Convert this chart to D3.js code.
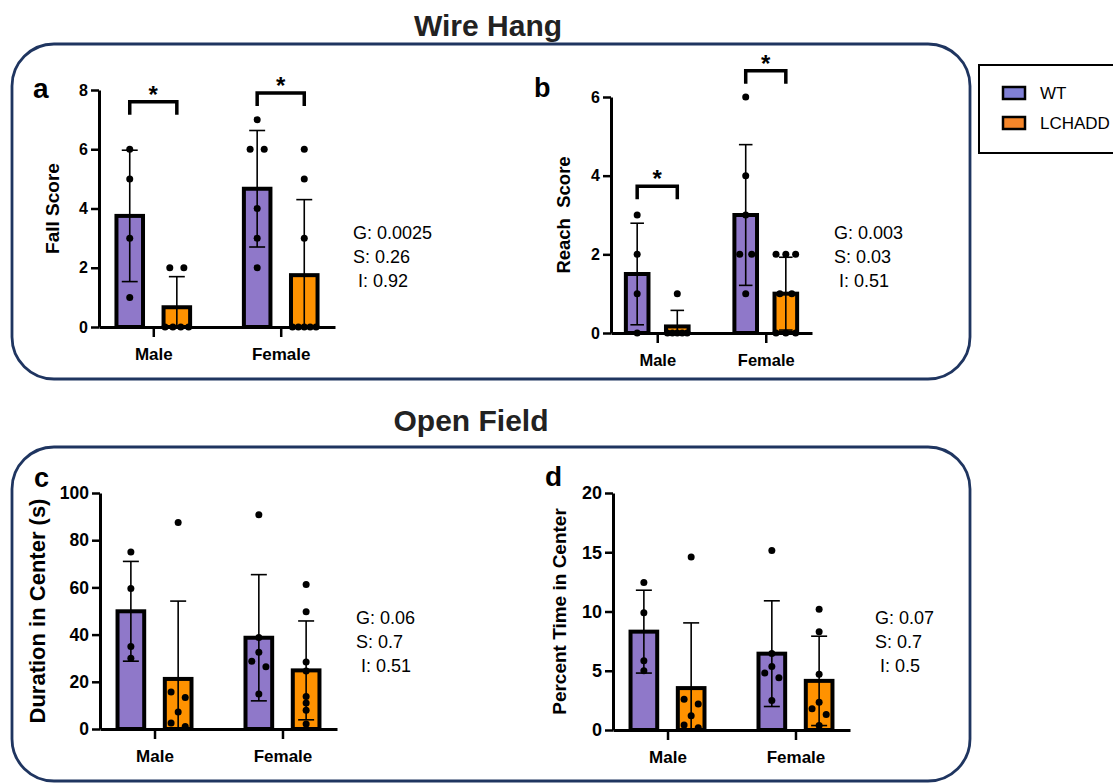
<!DOCTYPE html>
<html>
<head>
<meta charset="utf-8">
<title>Wire Hang / Open Field</title>
<script src="https://cdn.jsdelivr.net/npm/d3@7/dist/d3.min.js"></script>
<style>
  body { margin: 0; background: #fff; }
  svg { display: block; font-family: "Liberation Sans", Arial, sans-serif; }
  .pre { white-space: pre; }
</style>
</head>
<body>
<script>
// categories and groups
var categories = ["Male", "Female"];
var genotypes = ["WT", "LCHADD"];

// a: wire hang fall score
var fallMaleWT = [6, 5, 3, 1];
var fallMaleLCHADD = [2, 2, 0, 0, 0, 0];
var fallFemaleWT = [7, 6, 6, 4, 3, 2];
var fallFemaleLCHADD = [6, 5, 3, 0, 0, 0, 0, 0];
var fallTicks = [0, 2, 4, 6, 8];
var fallSig = [7.6, 7.9];
var fallStats = ["G: 0.0025", "S: 0.26", " I: 0.92"];

// b: wire hang reach score
var reachMaleWT = [3, 2, 1, 0];
var reachMaleLCHADD = [1, 0, 0, 0, 0, 0];
var reachFemaleWT = [6, 4, 3, 2, 2, 1];
var reachFemaleLCHADD = [2, 2, 2, 1, 1, 0, 0, 0];
var reachTicks = [0, 2, 4, 6];
var reachSig = [3.73, 6.67];
var reachStats = ["G: 0.003", "S: 0.03", " I: 0.51"];

// c: open field duration in center (s)
var durMaleWT = [75, 59.5, 35, 30];
var durMaleLCHADD = [87.5, 15.7, 13.3, 7.2, 2.5, 1.1];
var durFemaleWT = [90.8, 38.8, 32.5, 28.7, 26.4, 14.8];
var durFemaleLCHADD = [61.2, 49.7, 28.4, 24.6, 13.8, 11, 7.9, 2.1];
var durTicks = [0, 20, 40, 60, 80, 100];
var durStats = ["G: 0.06", "S: 0.7", " I: 0.51"];

// d: open field percent time in center
var pctMaleWT = [12.45, 9.9, 5.85, 5.0];
var pctMaleLCHADD = [14.6, 2.6, 2.2, 1.2, 0.42, 0.2];
var pctFemaleWT = [15.15, 6.45, 5.35, 4.8, 4.4, 2.5];
var pctFemaleLCHADD = [10.2, 8.3, 4.7, 2.35, 1.8, 1.3, 0.37];
var pctTicks = [0, 5, 10, 15, 20];
var pctStats = ["G: 0.07", "S: 0.7", " I: 0.5"];

var colors = { WT: "#8f78c9", LCHADD: "#ff9200" };
var legendColors = { WT: "#8080d6", LCHADD: "#f5862a" };
var boxColor = "#1f3560";

var width = 1113, height = 783;

var svg = d3.select("body").append("svg")
    .attr("width", width)
    .attr("height", height);

// rounded frames
svg.append("rect").attr("x", 12).attr("y", 44).attr("width", 958).attr("height", 335)
    .attr("rx", 42).attr("fill", "none").attr("stroke", boxColor).attr("stroke-width", 2.8);
svg.append("rect").attr("x", 12).attr("y", 447).attr("width", 958).attr("height", 334)
    .attr("rx", 42).attr("fill", "none").attr("stroke", boxColor).attr("stroke-width", 2.8);

// section titles
svg.append("text").attr("x", 488).attr("y", 36).attr("text-anchor", "middle")
    .attr("font-size", 30).attr("font-weight", "bold").attr("fill", "#222").text("Wire Hang");
svg.append("text").attr("x", 471).attr("y", 431).attr("text-anchor", "middle")
    .attr("font-size", 30).attr("font-weight", "bold").attr("fill", "#222").text("Open Field");

// legend
var legend = svg.append("g");
legend.append("rect").attr("x", 979).attr("y", 65).attr("width", 150).attr("height", 88)
    .attr("fill", "none").attr("stroke", "#000").attr("stroke-width", 2);
genotypes.forEach(function(g, i) {
    legend.append("rect").attr("x", 1003).attr("y", 87 + i * 30).attr("width", 22).attr("height", 12)
        .attr("fill", legendColors[g]).attr("stroke", "#000").attr("stroke-width", 2.5);
    legend.append("text").attr("x", 1040).attr("y", 99 + i * 30)
        .attr("font-size", 17).text(g);
});

var panels = [
    { label: "a", lx: 33, ly: 98, lsize: 28,
      yTitle: "Fall Score", tx: 52, titleSize: 19, tickSize: 16, catSize: 17,
      x0: 99, x1: 335, y0: 327, yTop: 90, ticks: fallTicks,
      points: { Male: { WT: fallMaleWT, LCHADD: fallMaleLCHADD },
                Female: { WT: fallFemaleWT, LCHADD: fallFemaleLCHADD } },
      sig: fallSig, stats: fallStats, sx: 353, sy: 239 },
    { label: "b", lx: 534, ly: 97, lsize: 27,
      yTitle: "Reach  Score", tx: 564, titleSize: 18.5, tickSize: 16, catSize: 16.5,
      x0: 611, x1: 812, y0: 333, yTop: 97, ticks: reachTicks,
      points: { Male: { WT: reachMaleWT, LCHADD: reachMaleLCHADD },
                Female: { WT: reachFemaleWT, LCHADD: reachFemaleLCHADD } },
      sig: reachSig, stats: reachStats, sx: 834, sy: 239 },
    { label: "c", lx: 34, ly: 487, lsize: 27,
      yTitle: "Duration in Center (s)", tx: 37, titleSize: 22, tickSize: 17.5, catSize: 17,
      x0: 100, x1: 337, y0: 729, yTop: 493, ticks: durTicks,
      points: { Male: { WT: durMaleWT, LCHADD: durMaleLCHADD },
                Female: { WT: durFemaleWT, LCHADD: durFemaleLCHADD } },
      sig: null, stats: durStats, sx: 356, sy: 624 },
    { label: "d", lx: 545, ly: 486, lsize: 28,
      yTitle: "Percent Time in Center", tx: 559, titleSize: 19, tickSize: 18, catSize: 17,
      x0: 613, x1: 850, y0: 730, yTop: 493, ticks: pctTicks,
      points: { Male: { WT: pctMaleWT, LCHADD: pctMaleLCHADD },
                Female: { WT: pctFemaleWT, LCHADD: pctFemaleLCHADD } },
      sig: null, stats: pctStats, sx: 875, sy: 624 }
];

// spread dots sideways like a scatter-on-bar plot
function swarm(vals, y, bw) {
    var sorted = vals.slice().sort(function(a, b) { return b - a; });
    var rows = [];
    sorted.forEach(function(v) {
        var last = rows[rows.length - 1];
        if (last && last.v === v) last.n++;
        else rows.push({ v: v, n: 1 });
    });
    var pair = bw * 0.53;
    var out = [], prev = null;
    rows.forEach(function(row) {
        var py = y(row.v);
        if (row.n > 1) {
            var s = Math.min(pair, (bw - 3) / (row.n - 1));
            for (var i = 0; i < row.n; i++) out.push({ v: row.v, dx: (i - (row.n - 1) / 2) * s });
            prev = null;
        } else {
            var dx = 0;
            if (prev && Math.abs(py - prev.py) < 6.3) {
                if (prev.pt.dx === 0) prev.pt.dx = -pair / 2;
                dx = -prev.pt.dx;
            }
            var pt = { v: row.v, dx: dx };
            out.push(pt);
            prev = { py: py, pt: pt };
        }
    });
    return out;
}

panels.forEach(function(p) {
    var g = svg.append("g");

    var y = d3.scaleLinear().domain([0, d3.max(p.ticks)]).range([p.y0, p.yTop]);
    var x = d3.scalePoint().domain(categories).range([p.x0, p.x1]).padding(0.426);
    var step = x.step();
    var xg = d3.scaleBand().domain(genotypes).range([-0.289 * step, 0.289 * step]).paddingInner(0.436);
    var bw = xg.bandwidth();

    // panel letter
    g.append("text").attr("x", p.lx).attr("y", p.ly).attr("font-size", p.lsize)
        .attr("font-weight", "bold").text(p.label);

    // bars
    var cells = [];
    categories.forEach(function(c) {
        genotypes.forEach(function(gt) {
            var vals = p.points[c][gt];
            cells.push({ cat: c, geno: gt, vals: vals, mean: d3.mean(vals), sd: d3.deviation(vals) });
        });
    });

    g.selectAll(".bar").data(cells).enter().append("rect")
        .attr("class", "bar")
        .attr("x", function(d) { return x(d.cat) + xg(d.geno); })
        .attr("y", function(d) { return y(d.mean); })
        .attr("width", bw)
        .attr("height", function(d) { return p.y0 - y(d.mean); })
        .attr("fill", function(d) { return colors[d.geno]; })
        .attr("stroke", "#000").attr("stroke-width", 4);

    // error bars (mean +/- SD)
    var cap = bw * 0.6;
    cells.forEach(function(d) {
        var cx = x(d.cat) + xg(d.geno) + bw / 2;
        var lo = Math.max(0, d.mean - d.sd), hi = d.mean + d.sd;
        g.append("line").attr("x1", cx).attr("x2", cx).attr("y1", y(lo)).attr("y2", y(hi))
            .attr("stroke", "#000").attr("stroke-width", 1.6);
        g.append("line").attr("x1", cx - cap / 2).attr("x2", cx + cap / 2).attr("y1", y(hi)).attr("y2", y(hi))
            .attr("stroke", "#000").attr("stroke-width", 1.6);
        if (d.mean - d.sd > 0) {
            g.append("line").attr("x1", cx - cap / 2).attr("x2", cx + cap / 2).attr("y1", y(lo)).attr("y2", y(lo))
                .attr("stroke", "#000").attr("stroke-width", 1.6);
        }
        // dots
        g.selectAll(null).data(swarm(d.vals, y, bw)).enter().append("circle")
            .attr("cx", function(e) { return cx + e.dx; })
            .attr("cy", function(e) { return y(e.v); })
            .attr("r", 3.5)
            .attr("fill", "#000");
    });

    // y axis
    var yAxis = d3.axisLeft(y).tickValues(p.ticks).tickFormat(d3.format("d"))
        .tickSize(8).tickPadding(3).tickSizeOuter(0);
    var ya = g.append("g").attr("transform", "translate(" + p.x0 + ",0)").call(yAxis);
    ya.select(".domain").attr("stroke-width", 3);
    ya.selectAll(".tick line").attr("stroke-width", 2.5);
    ya.selectAll(".tick text").attr("font-size", p.tickSize).attr("font-weight", "bold")
        .attr("font-family", "Liberation Sans, Arial, sans-serif").attr("fill", "#000");

    // x axis
    var xAxis = d3.axisBottom(x).tickSize(10).tickPadding(11).tickSizeOuter(0);
    var xa = g.append("g").attr("transform", "translate(0," + p.y0 + ")").call(xAxis);
    xa.select(".domain").attr("stroke-width", 3);
    xa.selectAll(".tick line").attr("stroke-width", 2.5);
    xa.selectAll(".tick text").attr("font-size", p.catSize).attr("font-weight", "bold")
        .attr("font-family", "Liberation Sans, Arial, sans-serif").attr("fill", "#000");

    // y title
    g.append("text").attr("class", "pre")
        .attr("transform", "translate(" + p.tx + "," + ((p.y0 + p.yTop) / 2) + ") rotate(-90)")
        .attr("text-anchor", "middle").attr("dy", "0.35em")
        .attr("font-size", p.titleSize).attr("font-weight", "bold").text(p.yTitle);

    // significance brackets
    if (p.sig) {
        categories.forEach(function(c, i) {
            var xa1 = x(c) + xg("WT") + bw / 2, xa2 = x(c) + xg("LCHADD") + bw / 2;
            var top = y(p.sig[i]), leg = 13;
            g.append("path")
                .attr("d", "M" + xa1 + "," + (top + leg) + "V" + top + "H" + xa2 + "V" + (top + leg))
                .attr("fill", "none").attr("stroke", "#000").attr("stroke-width", 3.5);
            g.append("text").attr("x", (xa1 + xa2) / 2).attr("y", top + 1)
                .attr("text-anchor", "middle").attr("font-size", 24).attr("font-weight", "bold").text("*");
        });
    }

    // stats
    p.stats.forEach(function(s, i) {
        g.append("text").attr("class", "pre").attr("x", p.sx).attr("y", p.sy + i * 24)
            .attr("font-size", 18).text(s);
    });
});
</script>
</body>
</html>
